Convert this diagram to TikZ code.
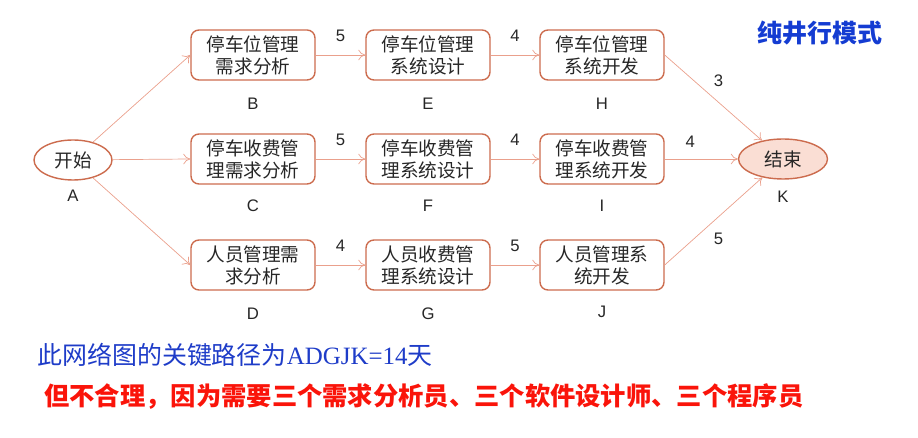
\documentclass[tikz,border=0pt]{standalone}
\usepackage{fontspec}
\setmainfont{Liberation Sans}
\newfontfamily\cjk{Noto Sans CJK SC}
\newfontfamily\tms{Liberation Serif}
\usetikzlibrary{shapes.geometric,arrows.meta}
\definecolor{boxline}{RGB}{204,108,78}
\definecolor{arcline}{RGB}{234,160,140}
\definecolor{endfill}{RGB}{250,222,212}
\definecolor{titleblue}{RGB}{20,60,210}
\definecolor{noteblue}{RGB}{30,60,200}
\definecolor{notered}{RGB}{250,20,10}
\tikzset{
  task/.style={draw=boxline,thick,rounded corners=4.5pt,minimum width=2.48cm,minimum height=1cm,
    align=center,font=\cjk\fontsize{10.6}{12.5}\selectfont,text=black!85,inner sep=1pt},
  event/.style={ellipse,draw=boxline,thick,minimum width=1.56cm,minimum height=0.8cm,
    font=\cjk\fontsize{10.6}{12.5}\selectfont,text=black!85,inner sep=0pt},
  lbl/.style={font=\fontsize{9.5}{11}\selectfont,text=black!85,inner sep=0pt},
  arc/.style={draw=arcline,-{To[length=4pt,width=6pt]}},
  dur/.style={font=\fontsize{9.5}{11}\selectfont,text=black!85}
}
\begin{document}
\begin{tikzpicture}[x=0.02cm,y=-0.02cm]
    \useasboundingbox (0,0) rectangle (918,438);
    \node[event,label={[lbl,label distance=0.18cm]below:A}](A) at (73,160){开始};
    \node[event,fill=endfill,minimum width=1.78cm,label={[lbl,label distance=0.22cm]below:K}](K) at (783,159){结束};
    \node[task,label={[lbl,label distance=0.34cm]below:B}](B) at (253,55){停车位管理\\需求分析};
    \node[task,label={[lbl,label distance=0.34cm]below:E}](E) at (428,55){停车位管理\\系统设计};
    \node[task,label={[lbl,label distance=0.34cm]below:H}](H) at (602,55){停车位管理\\系统开发};
    \node[task,label={[lbl,label distance=0.3cm]below:C}](C) at (253,159){停车收费管\\理需求分析};
    \node[task,label={[lbl,label distance=0.3cm]below:F}](F) at (428,159){停车收费管\\理系统设计};
    \node[task,label={[lbl,label distance=0.3cm]below:I}](I) at (602,159){停车收费管\\理系统开发};
    \node[task,label={[lbl,label distance=0.34cm]below:D}](D) at (253,265){人员管理需\\求分析};
    \node[task,label={[lbl,label distance=0.34cm]below:G}](G) at (428,265){人员收费管\\理系统设计};
    \node[task,label={[lbl,label distance=0.3cm]below:J}](J) at (602,265){人员管理系\\统开发};
    \draw[arc](A)--(B.west);
    \draw[arc](A)--(C.west);
    \draw[arc](A)--(D.west);
    \draw[arc](B)--node[dur,above=4pt]{5}(E);
    \draw[arc](E)--node[dur,above=4pt]{4}(H);
    \draw[arc](C)--node[dur,above=4pt]{5}(F);
    \draw[arc](F)--node[dur,above=4pt]{4}(I);
    \draw[arc](D)--node[dur,above=4pt]{4}(G);
    \draw[arc](G)--node[dur,above=4pt]{5}(J);
    \draw[arc](H.east)--node[dur,pos=0.44,above right]{3}(K);
    \draw[arc](I)--node[dur,pos=0.35,above=3pt]{4}(K);
    \draw[arc](J.east)--node[dur,pos=0.44,below right]{5}(K);
    \node[font=\cjk\bfseries\fontsize{14.2}{16}\selectfont,text=titleblue](title) at (820,33){纯井行模式};
    \node[anchor=west,font=\fontsize{14.2}{16}\selectfont,text=noteblue,inner sep=0pt](path) at (37,355)
      {{\cjk 此网络图的关键路径为}{\tms ADGJK=14}{\cjk 天}};
    \node[anchor=west,font=\cjk\bfseries\fontsize{14.4}{17}\selectfont,text=notered,inner sep=0pt](note) at (44,397)
      {但不合理，因为需要三个需求分析员、三个软件设计师、三个程序员};
\end{tikzpicture}
\end{document}
